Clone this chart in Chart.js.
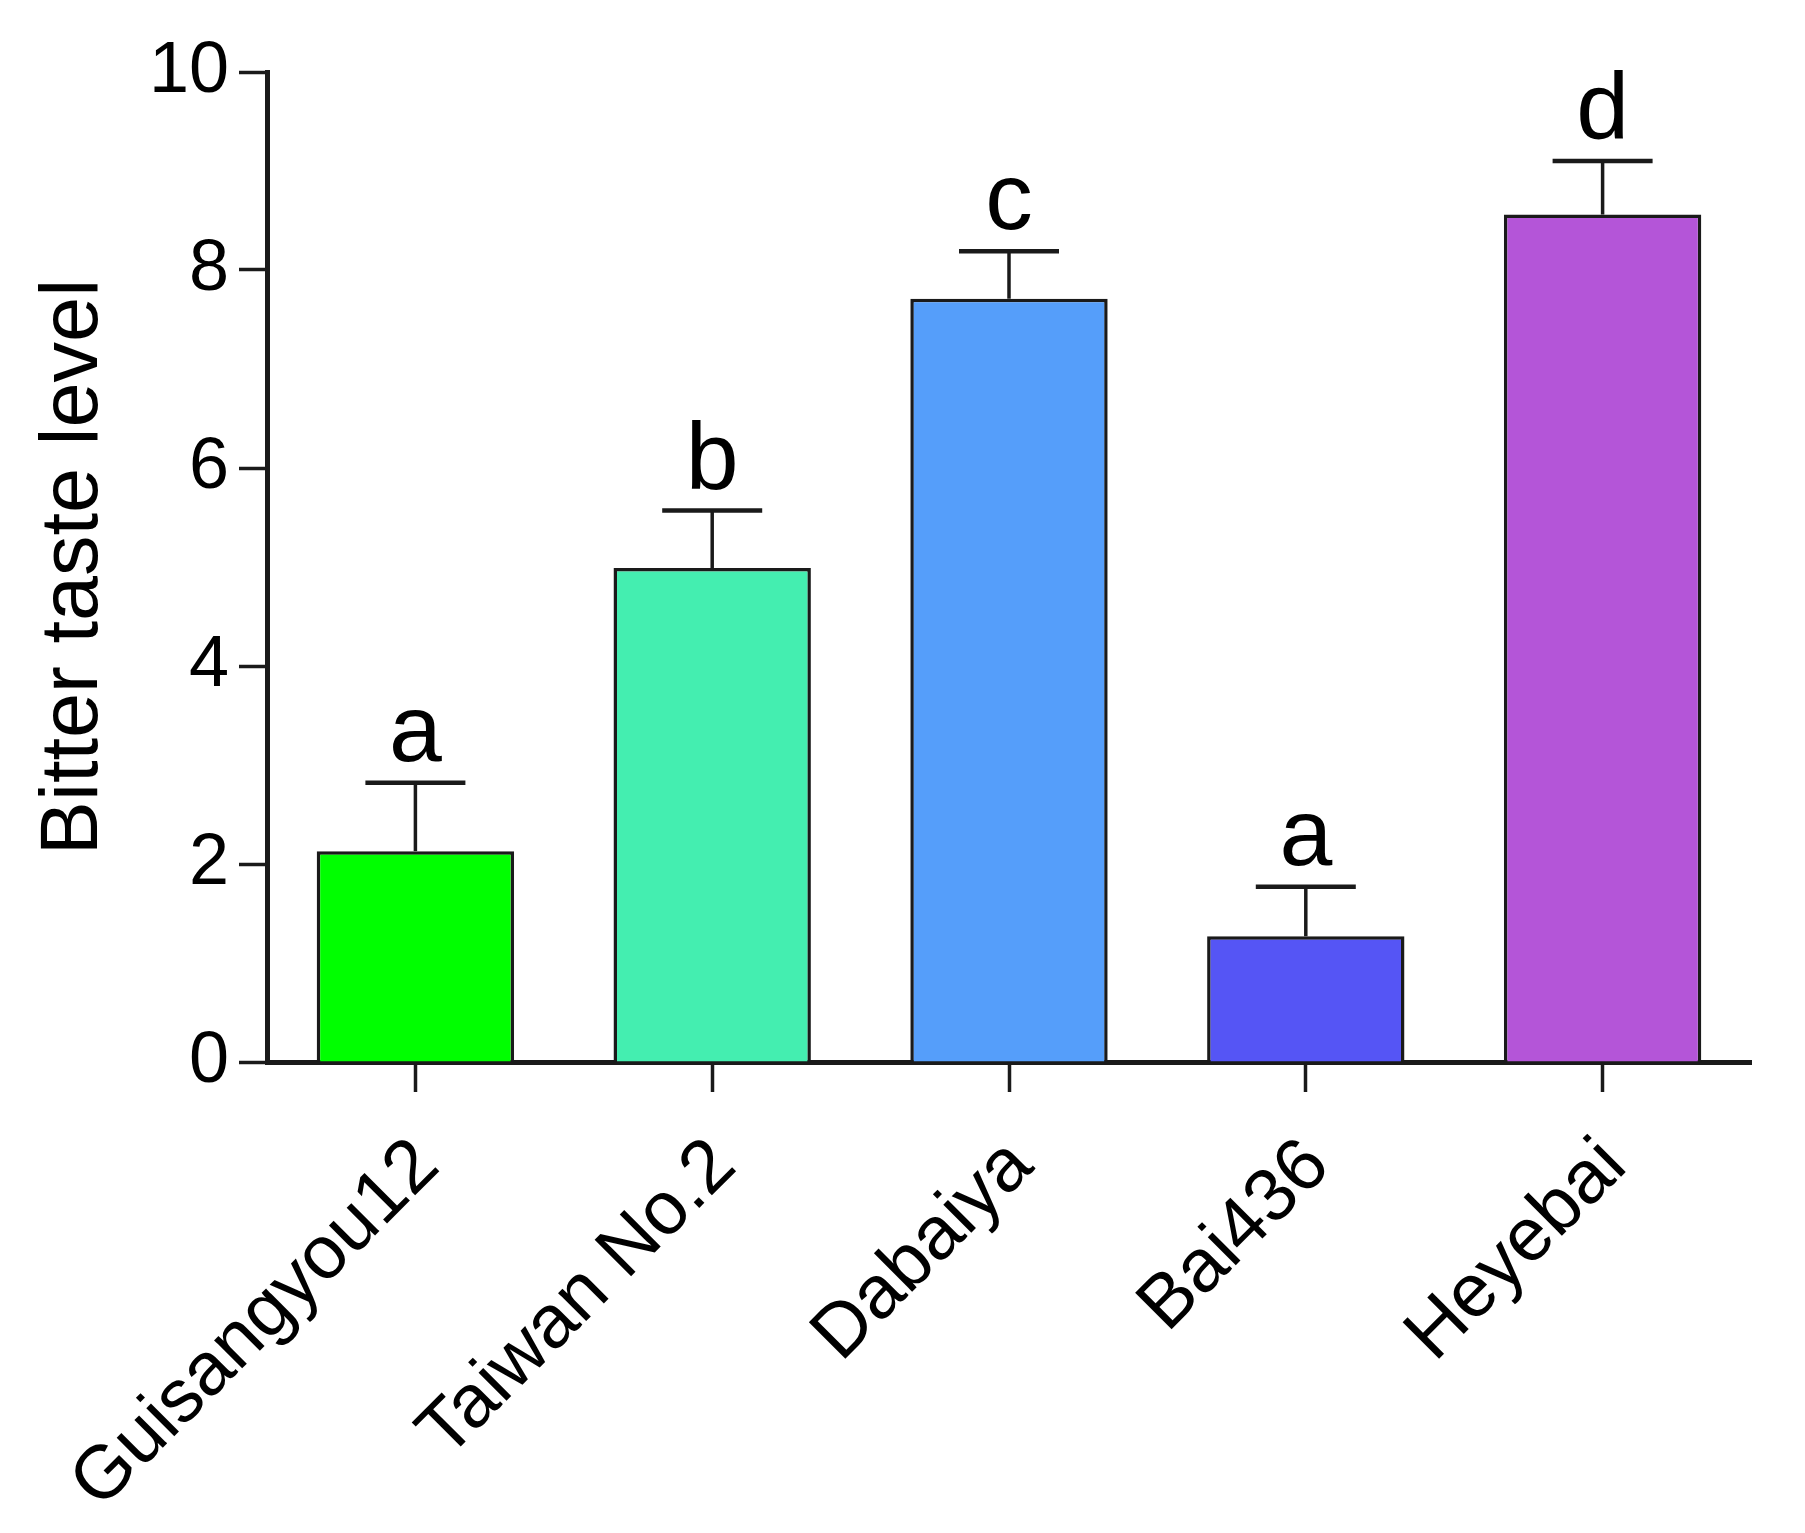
<!DOCTYPE html>
<html>
<head>
<meta charset="utf-8">
<script src="https://cdn.jsdelivr.net/npm/chart.js@4.4.1/dist/chart.umd.min.js"></script>
<style>
  html, body { margin: 0; padding: 0; background: #ffffff; }
  #wrap { position: relative; width: 1805px; height: 1533px; }
</style>
</head>
<body>
<div id="wrap"><canvas id="c"></canvas></div>
<script>
// ---- data ----
const categories = ["Guisangyou12", "Taiwan No.2", "Dabaiya", "Bai436", "Heyebai"];
const meanValues = [2.13, 4.99, 7.71, 1.27, 8.56];
const errorValues = [0.69, 0.58, 0.48, 0.50, 0.54];
const groupLetters = ["a", "b", "c", "a", "d"];
const barColors = ["#00FF00", "#44EEB0", "#559EFA", "#5555F5", "#B455D8"];
const yTicks = [0, 2, 4, 6, 8, 10];
const yTitle = "Bitter taste level";

const FONT = "'Liberation Sans', Arial, Helvetica, sans-serif";
const INK = "#1a1a1a";

const errorBarPlugin = {
  id: 'errorBars',
  afterDatasetsDraw(chart) {
    const ctx = chart.ctx;
    const meta = chart.getDatasetMeta(0);
    const yScale = chart.scales.y;
    ctx.save();
    meta.data.forEach((bar, i) => {
      const x = bar.x;
      const yTop = yScale.getPixelForValue(meanValues[i] + errorValues[i]);
      const yBase = yScale.getPixelForValue(meanValues[i]);
      const half = 50;
      ctx.strokeStyle = INK;
      ctx.lineWidth = 3.5;
      ctx.beginPath();
      ctx.moveTo(x, yBase);
      ctx.lineTo(x, yTop);
      ctx.stroke();
      ctx.lineWidth = 4.5;
      ctx.beginPath();
      ctx.moveTo(x - half, yTop);
      ctx.lineTo(x + half, yTop);
      ctx.stroke();
      // significance letter
      ctx.fillStyle = "#000";
      ctx.font = "95px " + FONT;
      ctx.textAlign = "center";
      ctx.textBaseline = "alphabetic";
      ctx.fillText(groupLetters[i], x, yTop - 22);
    });
    ctx.restore();
  }
};

new Chart(document.getElementById('c'), {
  type: 'bar',
  data: {
    labels: categories,
    datasets: [{
      data: meanValues,
      backgroundColor: barColors,
      borderColor: INK,
      borderWidth: 3.5,
      barPercentage: 0.665,
      categoryPercentage: 1.0
    }]
  },
  options: {
    responsive: true,
    maintainAspectRatio: false,
    animation: false,
    devicePixelRatio: 1,
    layout: { padding: { top: 72, right: 54, bottom: 0, left: 0 } },
    plugins: {
      legend: { display: false },
      tooltip: { enabled: false },
      title: { display: false }
    },
    scales: {
      x: {
        offset: true,
        grid: {
          display: true,
          drawOnChartArea: false,
          drawTicks: true,
          tickLength: 30,
          tickWidth: 3.5,
          tickColor: INK,
          offset: false
        },
        border: { display: true, color: INK, width: 5 },
        ticks: {
          autoSkip: false,
          minRotation: 45,
          maxRotation: 45,
          padding: 30,
          labelOffset: 12,
          color: "#000",
          font: { family: FONT, size: 75 }
        },
        afterFit(scale) { scale.height = 471; }
      },
      y: {
        min: 0,
        max: 10,
        afterBuildTicks(scale) { scale.ticks = yTicks.map(v => ({ value: v })); },
        grid: {
          display: true,
          drawOnChartArea: false,
          drawTicks: true,
          tickLength: 28,
          tickWidth: 3.5,
          tickColor: INK
        },
        border: { display: true, color: INK, width: 5 },
        ticks: {
          padding: 10,
          color: "#000",
          font: { family: FONT, size: 72 }
        },
        title: {
          display: true,
          text: yTitle,
          color: "#000",
          font: { family: FONT, size: 81 },
          padding: { top: 26, bottom: 0 }
        },
        afterFit(scale) { scale.width = 267; }
      }
    }
  },
  plugins: [errorBarPlugin]
});
</script>
</body>
</html>
